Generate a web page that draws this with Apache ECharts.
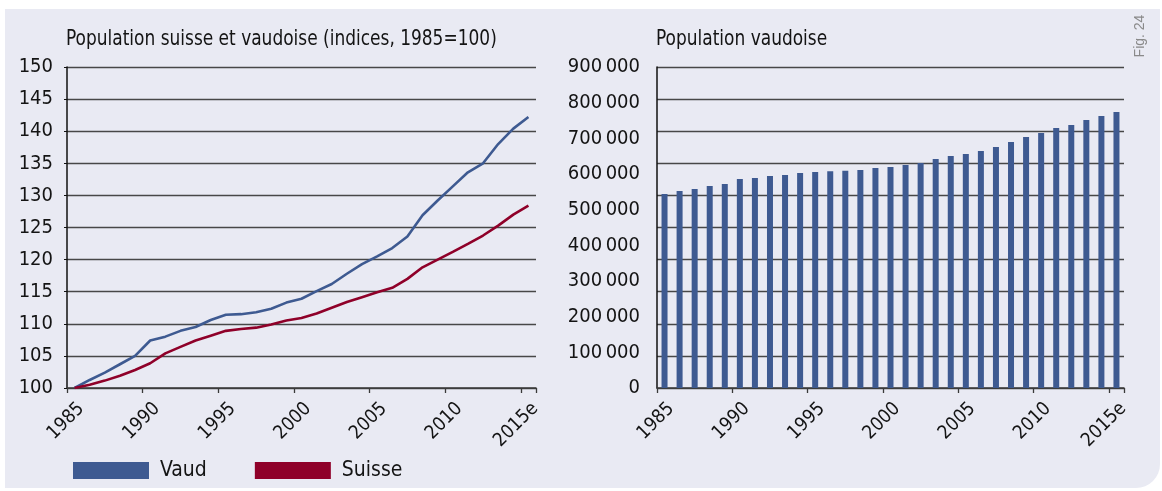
<!DOCTYPE html>
<html>
<head>
<meta charset="utf-8">
<title>Population suisse et vaudoise</title>
<script src="https://cdn.jsdelivr.net/npm/echarts@6/dist/echarts.min.js"></script>
<style>
  html, body { margin: 0; padding: 0; background: #ffffff; }
  #chart { width: 1162px; height: 491px; }
</style>
</head>
<body>
<div id="chart"></div>
<script>
// Years on both horizontal axes (last one is an estimate)
const years = ['1985','1986','1987','1988','1989','1990','1991','1992','1993','1994',
  '1995','1996','1997','1998','1999','2000','2001','2002','2003','2004',
  '2005','2006','2007','2008','2009','2010','2011','2012','2013','2014','2015e'];

// Population index, 1985 = 100
const vaudIndex = [100, 101.25, 102.4, 103.7, 105.0, 107.4, 108.0, 108.9, 109.5, 110.6,
  111.4, 111.5, 111.8, 112.35, 113.3, 113.9, 115.1, 116.2, 117.8, 119.3,
  120.5, 121.8, 123.6, 126.9, 129.2, 131.4, 133.6, 135.0, 138.0, 140.4, 142.2];
const suisseIndex = [100, 100.5, 101.15, 101.9, 102.8, 103.85, 105.4, 106.4, 107.4, 108.15,
  108.9, 109.2, 109.4, 109.9, 110.5, 110.9, 111.6, 112.5, 113.4, 114.15,
  114.9, 115.6, 117.0, 118.8, 120.0, 121.2, 122.45, 123.75, 125.3, 127.0, 128.4];

// Resident population of the canton of Vaud
const vaudPopulation = [543900, 552300, 557900, 566300, 572000, 586000, 588800, 594400, 597200, 602800,
  605600, 608000, 608800, 611200, 616800, 619600, 625200, 630800, 642000, 650500,
  656100, 664500, 675700, 689700, 703700, 715000, 729000, 737400, 751400, 762600, 773800];

const seriesNames = ['Vaud', 'Suisse'];
const titles = ['Population suisse et vaudoise (indices, 1985=100)', 'Population vaudoise'];

const FONT = "'Liberation Sans Narrow', 'DejaVu Sans Condensed', 'Roboto Condensed', 'Liberation Sans', sans-serif";
const INK = '#141414';
const GRID_LINE = '#474747';
const BLUE = '#3e5a91';
const RED = '#8f0029';

function fmtThousands(v) {
  return String(v).replace(/\B(?=(\d{3})+(?!\d))/g, '\u202F');
}

const xAxisBase = {
  type: 'category',
  data: years,
  boundaryGap: true,
  axisLine: { show: true, lineStyle: { color: '#3a3a3a', width: 1.5 } },
  axisTick: { show: true, interval: 4, length: 5, lineStyle: { color: '#3a3a3a', width: 1.3 } },
  axisLabel: { interval: 4, rotate: 45, margin: 11, color: INK, fontSize: 19, fontFamily: FONT,
               verticalAlign: 'top' },
  splitLine: { show: false }
};

// Panel titles, slightly compressed horizontally
function titleText(text, x) {
  return {
    type: 'text', silent: true, x: x, y: 29, scaleX: 0.9,
    style: { text: text, fill: INK, font: '21px ' + FONT, align: 'left', verticalAlign: 'top' }
  };
}

const chart = echarts.init(document.getElementById('chart'), null, { renderer: 'canvas' });

chart.setOption({
  backgroundColor: '#ffffff',
  animation: false,
  graphic: [
    {
      type: 'rect', z: -10, silent: true,
      shape: { x: 5, y: 9, width: 1155, height: 479, r: [0, 0, 24, 0] },
      style: { fill: '#e9eaf3' }
    },
    {
      type: 'text', silent: true, x: 1140, y: 36, rotation: Math.PI / 2,
      style: { text: 'Fig. 24', fill: '#8a8a8a', font: "14px 'Liberation Sans', sans-serif",
               align: 'center', verticalAlign: 'middle' }
    },
    titleText(titles[0], 66),
    titleText(titles[1], 656)
  ],
  legend: {
    data: seriesNames,
    left: 73, top: 460, padding: 0,
    icon: 'rect', itemWidth: 76, itemHeight: 17, itemGap: 48,
    textStyle: { color: INK, fontSize: 21, fontFamily: FONT, padding: [0, 0, 0, 6] }
  },
  grid: [
    { left: 67, top: 67, width: 469, height: 321 },
    { left: 657, top: 67, width: 467, height: 321 }
  ],
  xAxis: [
    Object.assign({ gridIndex: 0 }, xAxisBase),
    Object.assign({ gridIndex: 1 }, xAxisBase)
  ],
  yAxis: [
    {
      gridIndex: 0, type: 'value', min: 100, max: 150, interval: 5,
      axisLine: { show: true, lineStyle: { color: '#111', width: 1.5 } },
      axisTick: { show: true, length: 3, lineStyle: { color: '#111' } },
      axisLabel: { color: INK, fontSize: 20, fontFamily: FONT, margin: 14 },
      splitLine: { show: true, lineStyle: { color: GRID_LINE, width: 1.4 } }
    },
    {
      gridIndex: 1, type: 'value', min: 0, max: 900000, interval: 100000,
      axisLine: { show: true, lineStyle: { color: '#111', width: 1.5 } },
      axisTick: { show: false },
      axisLabel: { color: INK, fontSize: 20, fontFamily: FONT, margin: 17, formatter: fmtThousands },
      splitLine: { show: false }
    },
    {
      // horizontal rules of the right panel
      gridIndex: 1, type: 'value', min: 0, max: 10, interval: 1, position: 'left',
      axisLine: { show: false }, axisTick: { show: false }, axisLabel: { show: false },
      splitLine: { show: true, lineStyle: { color: GRID_LINE, width: 1.4 } }
    }
  ],
  series: [
    {
      name: seriesNames[0], type: 'line', xAxisIndex: 0, yAxisIndex: 0,
      data: vaudIndex, symbol: 'none', smooth: false,
      lineStyle: { color: BLUE, width: 2.6 }, itemStyle: { color: BLUE }, z: 3
    },
    {
      name: seriesNames[1], type: 'line', xAxisIndex: 0, yAxisIndex: 0,
      data: suisseIndex, symbol: 'none', smooth: false,
      lineStyle: { color: RED, width: 2.6 }, itemStyle: { color: RED }, z: 3
    },
    {
      name: 'Population vaudoise', type: 'bar', xAxisIndex: 1, yAxisIndex: 1,
      data: vaudPopulation, barWidth: 6,
      itemStyle: { color: BLUE }
    }
  ]
});
</script>
</body>
</html>
